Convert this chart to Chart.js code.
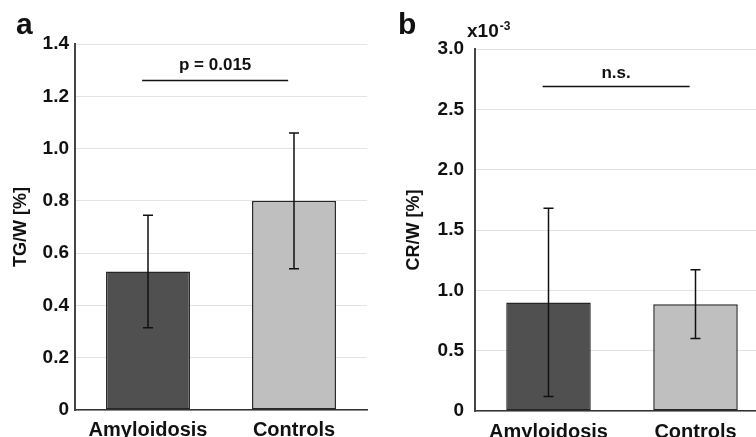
<!DOCTYPE html>
<html>
<head>
<meta charset="utf-8">
<script src="https://cdn.jsdelivr.net/npm/chart.js@4.4.0/dist/chart.umd.min.js"></script>
<style>
  html, body { margin: 0; padding: 0; overflow: hidden; background: #fff; }
  body { width: 756px; height: 437px; position: relative; }
  .panel { position: absolute; top: 0; height: 437px; }
  #wrapA { left: 0; width: 378px; }
  #wrapB { left: 378px; width: 400px; }
</style>
</head>
<body>
<div class="panel" id="wrapA"><canvas id="chartA" width="378" height="437"></canvas></div>
<div class="panel" id="wrapB"><canvas id="chartB" width="400" height="437"></canvas></div>
<script>
// data
const categories = ['Amyloidosis', 'Controls'];
const tgMeans = [0.53, 0.80];
const tgSD = [0.215, 0.26];
const crMeans = [0.90, 0.885];   // x10^-3
const crSD = [0.78, 0.285];
const tgTicks = [0, 0.2, 0.4, 0.6, 0.8, 1.0, 1.2, 1.4];
const crTicks = [0, 0.5, 1.0, 1.5, 2.0, 2.5, 3.0];

const FONT = '"Liberation Sans", Arial, Helvetica, sans-serif';
const barColors = ['#505050', '#bfbfbf'];

// error bars, significance bar, panel letter, exponent
const annotate = {
  id: 'annotate',
  afterDatasetsDraw(chart, args, opts) {
    const { ctx, chartArea } = chart;
    const x = chart.scales.x, y = chart.scales.y;
    const meta = chart.getDatasetMeta(0);
    const means = chart.data.datasets[0].data;
    ctx.save();
    ctx.strokeStyle = '#111';
    ctx.lineWidth = 1.5;
    opts.sd.forEach((s, i) => {
      const px = meta.data[i].x;
      const top = y.getPixelForValue(means[i] + s);
      const bot = y.getPixelForValue(means[i] - s);
      ctx.beginPath();
      ctx.moveTo(px, top); ctx.lineTo(px, bot);
      ctx.moveTo(px - 5, top); ctx.lineTo(px + 5, top);
      ctx.moveTo(px - 5, bot); ctx.lineTo(px + 5, bot);
      ctx.stroke();
    });

    const step = x.getPixelForValue(1) - x.getPixelForValue(0);
    const x0 = x.getPixelForValue(0) + opts.shift * step;
    const x1 = x.getPixelForValue(1) + opts.shift * step;
    const ly = y.getPixelForValue(opts.sigAt);
    ctx.beginPath();
    ctx.moveTo(x0, ly); ctx.lineTo(x1, ly);
    ctx.stroke();
    ctx.fillStyle = '#111';
    ctx.font = 'bold 17px ' + FONT;
    ctx.textAlign = 'center';
    ctx.textBaseline = 'alphabetic';
    ctx.fillText(opts.sigText, (x0 + x1) / 2, ly - opts.sigGap);

    ctx.textAlign = 'left';
    ctx.font = 'bold 30px ' + FONT;
    ctx.fillText(opts.letter, opts.letterX, 34);

    if (opts.exponent) {
      ctx.font = 'bold 19px ' + FONT;
      const ex = chartArea.left - 8, ey = chartArea.top - 12;
      ctx.fillText('x10', ex, ey);
      const w = ctx.measureText('x10').width;
      ctx.font = 'bold 12px ' + FONT;
      ctx.fillText('-3', ex + w + 1, ey - 7);
    }
    ctx.restore();
  }
};

function makeChart(id, means, cfg) {
  return new Chart(document.getElementById(id), {
    type: 'bar',
    data: {
      labels: categories,
      datasets: [{
        data: means,
        backgroundColor: barColors,
        borderColor: '#262626',
        borderWidth: 1.5,
        borderSkipped: false,
        categoryPercentage: 1.0,
        barPercentage: 0.575
      }]
    },
    options: {
      responsive: false,
      animation: false,
      layout: { padding: cfg.padding },
      plugins: {
        legend: { display: false },
        tooltip: { enabled: false },
        annotate: cfg.annotate
      },
      scales: {
        x: {
          grid: { display: false },
          border: { display: true, color: '#333', width: 1.5 },
          ticks: { color: '#111', font: { family: FONT, size: 20, weight: 'bold' }, padding: cfg.xPad },
          afterFit: s => { s.height = cfg.xHeight; }
        },
        y: {
          min: 0,
          max: cfg.max,
          afterBuildTicks: s => { s.ticks = cfg.ticks.map(v => ({ value: v })); },
          grid: { color: '#e3e3e3', lineWidth: 1, drawTicks: false },
          border: { display: true, color: '#444', width: 2 },
          ticks: {
            color: '#111',
            padding: cfg.tickPad,
            font: { family: FONT, size: 19, weight: 'bold' },
            callback: v => v === 0 ? '0' : v.toFixed(1)
          },
          title: {
            display: true,
            text: cfg.title,
            color: '#111',
            font: { family: FONT, size: 18, weight: 'bold' },
            padding: { top: cfg.titlePad, bottom: 0 }
          },
          afterFit: s => { s.width = cfg.yWidth; }
        }
      }
    },
    plugins: [annotate]
  });
}

makeChart('chartA', tgMeans, {
  padding: { top: 44, right: 11, left: 0, bottom: 0 },
  xHeight: 27, xPad: 0, yWidth: 75, tickPad: 6, titlePad: 10,
  max: 1.4, ticks: tgTicks, title: 'TG/W [%]',
  annotate: { sd: tgSD, sigAt: 1.26, sigText: 'p = 0.015', sigGap: 11, shift: -0.04, letter: 'a', letterX: 16, exponent: false }
});

makeChart('chartB', crMeans, {
  padding: { top: 49, right: 9, left: 0, bottom: 0 },
  xHeight: 26, xPad: 1, yWidth: 97, tickPad: 11, titlePad: 25,
  max: 3.0, ticks: crTicks, title: 'CR/W [%]',
  annotate: { sd: crSD, sigAt: 2.69, sigText: 'n.s.', sigGap: 8, shift: -0.04, letter: 'b', letterX: 20, exponent: true }
});
</script>
</body>
</html>
